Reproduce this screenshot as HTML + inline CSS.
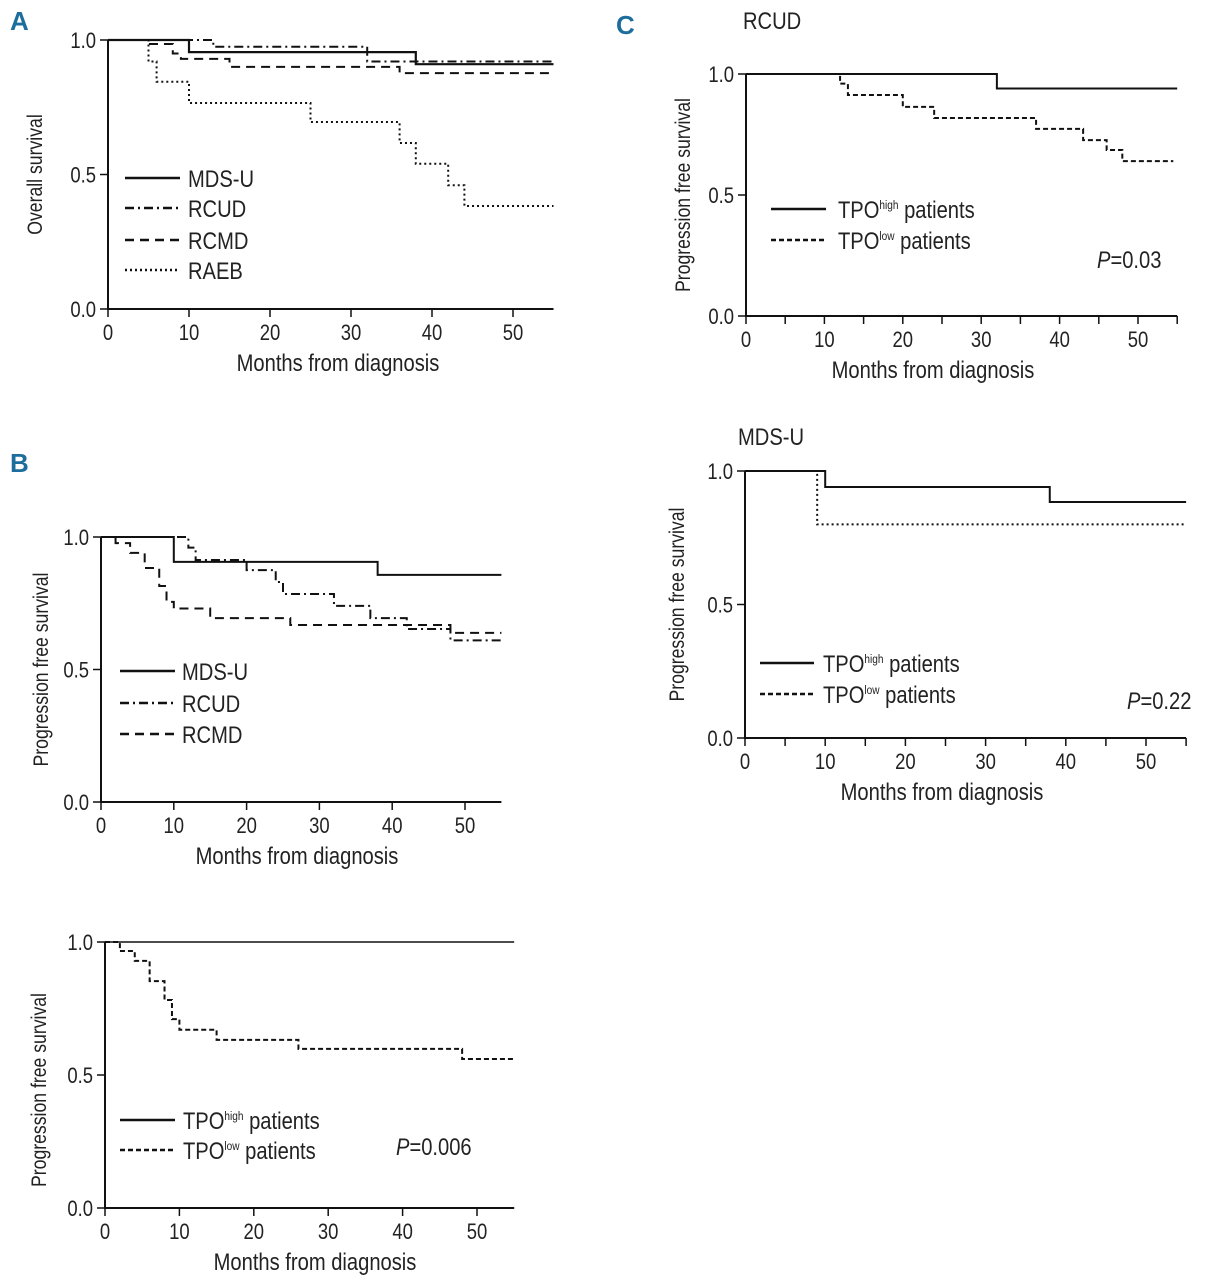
<!DOCTYPE html>
<html><head><meta charset="utf-8">
<style>
body{margin:0;background:#fff;}
svg{display:block;font-family:"Liberation Sans Narrow","Liberation Sans",sans-serif;}
.t{font-size:22px;fill:#222;}
.ti{font-size:24px;fill:#222;}
.yt{font-size:21px;fill:#222;}
.lab{font-size:26px;font-weight:bold;fill:#1d6e9c;font-family:"Liberation Sans",sans-serif;}
</style></head>
<body>
<svg id="fig" width="1207" height="1280" viewBox="0 0 1207 1280">
<text class="lab" x="10" y="30">A</text>
<text class="lab" x="10" y="472">B</text>
<text class="lab" x="616" y="34">C</text>
<text class="ti" x="743" y="29">RCUD</text>
<text class="ti" x="738" y="445">MDS-U</text>
</svg>
<script>
// Panel A: overall survival
const aMdsuT=[0,10,38,55], aMdsuS=[1,0.955,0.91,0.91];
const aRcudT=[0,13,32,55], aRcudS=[1,0.975,0.92,0.92];
const aRcmdT=[0,5,8,9,15,36,55], aRcmdS=[1,0.985,0.95,0.93,0.90,0.877,0.877];
const aRaebT=[0,5,6,10,25,36,38,42,44,55], aRaebS=[1,0.92,0.845,0.766,0.695,0.617,0.54,0.46,0.383,0.383];
// Panel B: PFS by subtype
const bMdsuT=[0,10,38,55], bMdsuS=[1,0.906,0.857,0.857];
const bRcudT=[0,12,13,20,24,25,32,37,42,48,55], bRcudS=[1,0.96,0.913,0.875,0.83,0.785,0.74,0.694,0.653,0.61,0.61];
const bRcmdT=[0,2,4,6,8,9,10,15,26,48,55], bRcmdS=[1,0.977,0.94,0.883,0.815,0.755,0.73,0.694,0.668,0.638,0.638];
// Panel B bottom: TPO
const b2HighT=[0,55], b2HighS=[1,1];
const b2LowT=[0,2,4,6,8,9,10,15,26,48,55], b2LowS=[1,0.966,0.929,0.853,0.782,0.71,0.67,0.632,0.598,0.56,0.56];
// Panel C RCUD
const c1HighT=[0,32,55], c1HighS=[1,0.94,0.94];
const c1LowT=[0,12,13,20,24,37,43,46,48,54.5], c1LowS=[1,0.96,0.913,0.864,0.818,0.773,0.727,0.686,0.64,0.64];
// Panel C MDS-U
const c2HighT=[0,10,38,55], c2HighS=[1,0.94,0.884,0.884];
const c2LowT=[0,9,55], c2LowS=[1,0.80,0.80];
const xTicks=[0,10,20,30,40,50];
const yTicks=[0,0.5,1.0];
const yTickLabels=["0.0","0.5","1.0"];

const NS="http://www.w3.org/2000/svg";
const svg=document.getElementById('fig');
function mk(tag,attrs,parent){const e=document.createElementNS(NS,tag);for(const k in attrs)e.setAttribute(k,attrs[k]);(parent||svg).appendChild(e);return e;}
const DASH={solid:"",dashdot:"9,4,2,4",dash:"9,6",dot:"2,3",dashS:"5,3"};

function panel(p){
  const g=mk('g',{});
  
  
  const sx=m=>p.x0+(p.x50-p.x0)*m/50;
  const sy=s=>p.y0+(p.y1-p.y0)*s;
  p.sx=sx;p.sy=sy;p.g=g;
  const ax=mk('line',{x1:p.x0,y1:sy(0),x2:sx(p.xmax),y2:sy(0),stroke:'#111','stroke-width':2},g);
  
  
  const ay=mk('line',{x1:p.x0,y1:sy(0)+1,x2:p.x0,y2:sy(1),stroke:'#111','stroke-width':2},g);
  
  
  const ticks=p.minor?[0,5,10,15,20,25,30,35,40,45,50,55]:xTicks;
  ticks.forEach(t=>{mk('line',{x1:sx(t),y1:sy(0),x2:sx(t),y2:sy(0)+8,stroke:'#111','stroke-width':1.5},g);});
  xTicks.forEach(t=>{const tx=mk('text',{x:sx(t),y:sy(0)+31,'text-anchor':'middle',class:'t'},g);tx.textContent=t;
    
    });
  yTicks.forEach((v,i)=>{mk('line',{x1:p.x0-8,y1:sy(v),x2:p.x0,y2:sy(v),stroke:'#111','stroke-width':1.5},g);
    const ty=mk('text',{x:p.x0-12,y:sy(v)+8,'text-anchor':'end',class:'t'},g);ty.textContent=yTickLabels[i];
    
    });
  const xt=mk('text',{x:p.xtx,y:sy(0)+62,'text-anchor':'middle',class:'ti'},g);xt.textContent='Months from diagnosis';
  
  
  const cy=(sy(0)+sy(1))/2+p.ytOff;
  const yt=mk('text',{x:p.ytx,y:cy,'text-anchor':'middle',class:'yt',transform:`rotate(-90 ${p.ytx} ${cy})`},g);yt.textContent=p.ytitle;
  
  
  return p;
}
function km(p,T,S,style,name,w){
  let d=`M${p.sx(T[0])},${p.sy(S[0])}`;
  for(let i=1;i<T.length;i++){d+=` H${p.sx(T[i])} V${p.sy(S[i])}`;}
  const path=mk('path',{d:d,fill:'none',stroke:'#111','stroke-width':w||2,'stroke-dasharray':DASH[style]},p.g);
  
  
}
function legend(p,x1,x2,tx,items){
  items.forEach(it=>{
    const l=mk('line',{x1:x1,y1:it.y,x2:x2,y2:it.y,stroke:'#111','stroke-width':2.5,'stroke-dasharray':DASH[it.style]},p.g);
    
    
    const t=mk('text',{x:tx,y:it.y+9,class:'ti'},p.g);
    
    
    if(it.sup){t.innerHTML=`TPO<tspan font-size="12" dy="-9">${it.sup}</tspan><tspan dy="9"> patients</tspan>`;}
    else t.textContent=it.label;
  });
}
function pval(p,x,y,val){
  const t=mk('text',{x:x,y:y,class:'ti'},p.g);
  
  
  t.innerHTML=`<tspan font-style="italic">P</tspan>=${val}`;
}

const A=panel({name:'panel-a-overall-survival',x0:108,x50:513,xmax:55,y0:309,y1:40,ytx:42,ytOff:0,xtx:338,ytitle:'Overall survival'});
km(A,aMdsuT,aMdsuS,'solid','series-mdsu',2.2);
km(A,aRcudT,aRcudS,'dashdot','series-rcud');
km(A,aRcmdT,aRcmdS,'dash','series-rcmd');
km(A,aRaebT,aRaebS,'dot','series-raeb');
legend(A,125,180,188,[{y:178,style:'solid',label:'MDS-U'},{y:208,style:'dashdot',label:'RCUD'},{y:240,style:'dash',label:'RCMD'},{y:270,style:'dot',label:'RAEB'}]);

const B=panel({name:'panel-b-pfs-subtype',x0:101,x50:465,xmax:55,y0:802,y1:537,ytx:48,ytOff:0,xtx:297,ytitle:'Progression free survival'});
km(B,bMdsuT,bMdsuS,'solid','series-mdsu');
km(B,bRcudT,bRcudS,'dashdot','series-rcud');
km(B,bRcmdT,bRcmdS,'dash','series-rcmd');
legend(B,120,175,182,[{y:671,style:'solid',label:'MDS-U'},{y:703,style:'dashdot',label:'RCUD'},{y:734,style:'dash',label:'RCMD'}]);

const B2=panel({name:'panel-b-pfs-tpo',x0:105,x50:477,xmax:55,y0:1208,y1:942,ytx:46,ytOff:15,xtx:315,ytitle:'Progression free survival'});
km(B2,b2HighT,b2HighS,'solid','series-tpo-high',1.5);
km(B2,b2LowT,b2LowS,'dashS','series-tpo-low');
legend(B2,120,175,183,[{y:1120,style:'solid',sup:'high'},{y:1150,style:'dashS',sup:'low'}]);
pval(B2,396,1155,'0.006');

const C1=panel({name:'panel-c-rcud',x0:746,x50:1138,xmax:55,y0:316,y1:74,ytx:690,ytOff:0,xtx:933,ytitle:'Progression free survival',minor:true});
km(C1,c1HighT,c1HighS,'solid','series-tpo-high');
km(C1,c1LowT,c1LowS,'dashS','series-tpo-low');
legend(C1,771,826,838,[{y:209,style:'solid',sup:'high'},{y:240,style:'dashS',sup:'low'}]);
pval(C1,1097,268,'0.03');

const C2=panel({name:'panel-c-mdsu',x0:745,x50:1146,xmax:55,y0:738,y1:471,ytx:684,ytOff:0,xtx:942,ytitle:'Progression free survival',minor:true});
km(C2,c2HighT,c2HighS,'solid','series-tpo-high');
km(C2,c2LowT,c2LowS,'dot','series-tpo-low');
legend(C2,760,814,823,[{y:663,style:'solid',sup:'high'},{y:694,style:'dashS',sup:'low'}]);
pval(C2,1127,709,'0.22');

// condense all text horizontally (reference uses a narrow typeface)
document.querySelectorAll('#fig text').forEach(t=>{
  if(t.classList.contains('lab'))return;
  const x=t.getAttribute('x'),y=t.getAttribute('y');
  const prev=t.getAttribute('transform')||'';
  t.setAttribute('transform',`${prev} translate(${x} ${y}) scale(0.84 1) translate(${-x} ${-y})`);
});
</script>
</body></html>
